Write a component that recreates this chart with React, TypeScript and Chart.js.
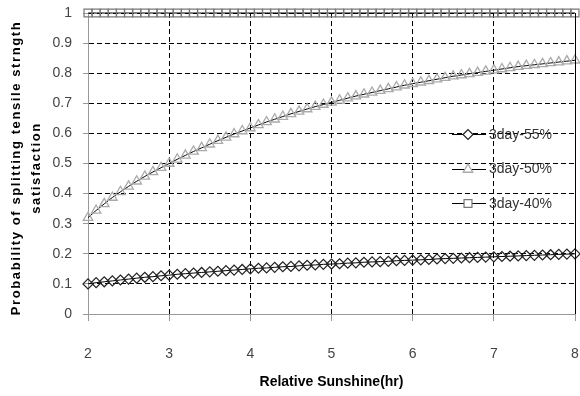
import React, { useEffect, useRef } from "react";
import { Chart, registerables } from "chart.js";
import { drawPoint } from "chart.js/helpers";

Chart.register(...registerables);

const xValues = [
  2.0, 2.1, 2.2, 2.3, 2.4, 2.5, 2.6, 2.7, 2.8, 2.9,
  3.0, 3.1, 3.2, 3.3, 3.4, 3.5, 3.6, 3.7, 3.8, 3.9,
  4.0, 4.1, 4.2, 4.3, 4.4, 4.5, 4.6, 4.7, 4.8, 4.9,
  5.0, 5.1, 5.2, 5.3, 5.4, 5.5, 5.6, 5.7, 5.8, 5.9,
  6.0, 6.1, 6.2, 6.3, 6.4, 6.5, 6.6, 6.7, 6.8, 6.9,
  7.0, 7.1, 7.2, 7.3, 7.4, 7.5, 7.6, 7.7, 7.8, 7.9,
  8.0,
];

const series55 = [
  0.100, 0.104, 0.107, 0.110, 0.113, 0.116, 0.119, 0.122, 0.124, 0.127,
  0.129, 0.132, 0.134, 0.136, 0.138, 0.140, 0.142, 0.144, 0.146, 0.148,
  0.150, 0.152, 0.153, 0.155, 0.157, 0.158, 0.160, 0.162, 0.163, 0.165,
  0.166, 0.167, 0.169, 0.170, 0.172, 0.173, 0.174, 0.175, 0.177, 0.178,
  0.179, 0.180, 0.181, 0.183, 0.184, 0.185, 0.186, 0.187, 0.188, 0.189,
  0.190, 0.191, 0.192, 0.193, 0.194, 0.195, 0.196, 0.197, 0.198, 0.199,
  0.200,
];

const series50 = [
  0.320, 0.344, 0.366, 0.387, 0.406, 0.424, 0.441, 0.457, 0.472, 0.486,
  0.500, 0.514, 0.527, 0.540, 0.552, 0.564, 0.576, 0.587, 0.598, 0.608,
  0.618, 0.628, 0.638, 0.647, 0.656, 0.665, 0.673, 0.681, 0.689, 0.696,
  0.703, 0.710, 0.717, 0.724, 0.730, 0.736, 0.742, 0.748, 0.754, 0.760,
  0.765, 0.770, 0.775, 0.780, 0.785, 0.790, 0.794, 0.798, 0.802, 0.806,
  0.810, 0.814, 0.818, 0.822, 0.825, 0.828, 0.831, 0.834, 0.837, 0.840,
  0.843,
];

const series40 = [
  1, 1, 1, 1, 1, 1, 1, 1, 1, 1,
  1, 1, 1, 1, 1, 1, 1, 1, 1, 1,
  1, 1, 1, 1, 1, 1, 1, 1, 1, 1,
  1, 1, 1, 1, 1, 1, 1, 1, 1, 1,
  1, 1, 1, 1, 1, 1, 1, 1, 1, 1,
  1, 1, 1, 1, 1, 1, 1, 1, 1, 1,
  1,
];

const seriesNames = ["3day-55%", "3day-50%", "3day-40%"];
const yTitleLines = ["Probability of splitting tensile strngth", "satisfaction"];
const xTitle = "Relative Sunshine(hr)";

const toPoints = (ys: number[]) => xValues.map((x, i) => ({ x, y: ys[i] }));

const TICK_FONT = { family: "'Liberation Sans', Arial, sans-serif", size: 14 };

const rightBorderPlugin = {
  id: "rightBorder",
  afterDatasetsDraw(chart: any) {
    const { ctx, chartArea } = chart;
    ctx.save();
    ctx.strokeStyle = "#000";
    ctx.lineWidth = 1;
    ctx.beginPath();
    const x = Math.round(chartArea.right) + 0.5;
    ctx.moveTo(x, chartArea.top);
    ctx.lineTo(x, chartArea.bottom);
    ctx.stroke();
    ctx.restore();
  },
};

const yTitlePlugin = {
  id: "yTitle",
  afterDraw(chart: any) {
    const { ctx } = chart;
    ctx.save();
    ctx.fillStyle = "#000";
    ctx.font = "bold 13px 'Liberation Sans', Arial, sans-serif";
    (ctx as any).letterSpacing = "1.6px";
    ctx.textAlign = "center";
    ctx.textBaseline = "middle";
    const xs = [16, 36];
    yTitleLines.forEach((line, i) => {
      ctx.save();
      ctx.translate(xs[i], 168);
      ctx.rotate(-Math.PI / 2);
      ctx.fillText(line, 0, 0);
      ctx.restore();
    });
    ctx.restore();
  },
};

const legendPlugin = {
  id: "customLegend",
  afterDraw(chart: any) {
    const { ctx } = chart;
    const rows = [134, 168.5, 203];
    ctx.save();
    chart.data.datasets.forEach((ds: any, i: number) => {
      const y = rows[i];
      ctx.strokeStyle = ds.borderColor;
      ctx.lineWidth = 1;
      ctx.beginPath();
      ctx.moveTo(452, Math.round(y) + 0.5);
      ctx.lineTo(486, Math.round(y) + 0.5);
      ctx.stroke();
      ctx.fillStyle = "#fff";
      ctx.strokeStyle = ds.pointBorderColor;
      ctx.lineWidth = ds.pointBorderWidth;
      drawPoint(
        ctx,
        { pointStyle: ds.pointStyle, radius: ds.pointRadius, rotation: 0, borderWidth: ds.pointBorderWidth } as any,
        468,
        Math.round(y) + 0.5
      );
      ctx.fillStyle = "#333";
      ctx.font = "14px 'Liberation Sans', Arial, sans-serif";
      ctx.textAlign = "left";
      ctx.textBaseline = "middle";
      ctx.fillText(ds.label, 489, y + 1);
    });
    ctx.restore();
  },
};

export default function App() {
  const canvasRef = useRef<HTMLCanvasElement | null>(null);

  useEffect(() => {
    if (!canvasRef.current) return;
    const chart = new Chart(canvasRef.current, {
      type: "line",
      data: {
        datasets: [
          {
            label: seriesNames[0],
            data: toPoints(series55),
            borderColor: "#000",
            borderWidth: 1,
            pointStyle: "rectRot",
            pointRadius: 5,
            pointBorderColor: "#222",
            pointBackgroundColor: "rgba(0,0,0,0)",
            pointBorderWidth: 1.2,
            clip: false,
          },
          {
            label: seriesNames[1],
            data: toPoints(series50),
            borderColor: "#000",
            borderWidth: 1,
            pointStyle: "triangle",
            pointRadius: 5.5,
            pointBorderColor: "#aaa",
            pointBackgroundColor: "rgba(0,0,0,0)",
            pointBorderWidth: 1.3,
            clip: false,
          },
          {
            label: seriesNames[2],
            data: toPoints(series40),
            borderColor: "#000",
            borderWidth: 1,
            pointStyle: "rect",
            pointRadius: 5.6,
            pointBorderColor: "#777",
            pointBackgroundColor: "rgba(0,0,0,0)",
            pointBorderWidth: 1.2,
            clip: false,
          },
        ],
      },
      options: {
        animation: false,
        responsive: false,
        devicePixelRatio: 1,
        layout: { autoPadding: false, padding: { top: 13, right: 5, left: 0, bottom: 0 } },
        plugins: {
          legend: { display: false },
          tooltip: { enabled: false },
        },
        elements: { line: { tension: 0 } },
        scales: {
          x: {
            type: "linear",
            min: 2,
            max: 8,
            afterFit: (scale: any) => {
              scale.height = 82;
              scale.paddingLeft = 0;
              scale.paddingRight = 0;
            },
            ticks: {
              stepSize: 1,
              color: "#444",
              font: TICK_FONT,
              padding: 25,
              maxRotation: 0,
            },
            grid: {
              color: (c: any) =>
                c.tick && (c.tick.value === 2 || c.tick.value === 8) ? "rgba(0,0,0,0)" : "#000",
              lineWidth: 1,
              tickLength: 7,
              tickColor: "#999",
            },
            border: { color: "#999", width: 1, dash: [5, 3] },
            title: {
              display: true,
              text: xTitle,
              color: "#000",
              font: { family: "'Liberation Sans', Arial, sans-serif", size: 14, weight: "bold" },
              padding: { top: 0, bottom: 5 },
            },
          },
          y: {
            type: "linear",
            min: 0,
            max: 1,
            afterFit: (scale: any) => {
              scale.width = 88;
              scale.paddingTop = 0;
              scale.paddingBottom = 0;
            },
            ticks: {
              stepSize: 0.1,
              color: "#444",
              font: TICK_FONT,
              padding: 11,
              callback: (v: any) => String(Math.round(Number(v) * 10) / 10),
            },
            grid: {
              color: (c: any) => (c.tick && c.tick.value === 0 ? "rgba(0,0,0,0)" : "#000"),
              lineWidth: 1,
              tickLength: 5,
              tickColor: "#999",
            },
            border: { color: "#999", width: 1, dash: [5, 3] },
          },
        },
      },
      plugins: [rightBorderPlugin, yTitlePlugin, legendPlugin],
    } as any);
    return () => chart.destroy();
  }, []);

  return (
    <div style={{ position: "absolute", left: 0, top: 0, width: 580, height: 396, background: "#fff" }}>
      <canvas ref={canvasRef} width={580} height={396} />
    </div>
  );
}
